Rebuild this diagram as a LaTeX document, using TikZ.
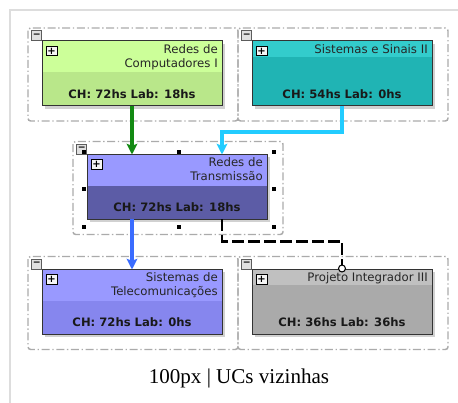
\documentclass[tikz,border=0pt]{standalone}
\usepackage{fontspec}
\newfontfamily\ucfont{DejaVu Sans}
\newfontfamily\capfont{Liberation Serif}
\usepackage{xcolor}
\definecolor{rcHead}{HTML}{CCFF99}
\definecolor{rcBody}{HTML}{B9E78A}
\definecolor{ssHead}{HTML}{33CCCC}
\definecolor{ssBody}{HTML}{20B4B4}
\definecolor{rtHead}{HTML}{9999FF}
\definecolor{rtBody}{HTML}{5C5CA6}
\definecolor{stHead}{HTML}{9999FF}
\definecolor{stBody}{HTML}{8686EE}
\definecolor{piHead}{HTML}{C0C0C0}
\definecolor{piBody}{HTML}{AAAAAA}
\definecolor{edge}{HTML}{333333}
\definecolor{grpC}{HTML}{ABABAB}
\definecolor{frameC}{HTML}{DDDDDD}
\definecolor{preC}{HTML}{138A13}
\definecolor{coC}{HTML}{22CCFF}
\definecolor{nextC}{HTML}{3A6CFF}
\usepackage{tikz}
\usetikzlibrary{arrows.meta,calc,shadows}
\tikzset{
  >={Stealth[length=8pt,width=8pt,inset=1.5pt]},
  ucbox/.style={draw=edge,line width=0.75pt,outer sep=0pt,inner sep=0pt,minimum width=135pt,minimum height=48.75pt,
    drop shadow={shadow xshift=2pt,shadow yshift=-2pt,fill=black!18,opacity=1}},
  grp/.style={draw=grpC,line width=1.1pt,rounded corners=2pt,dash pattern=on 6pt off 2pt on 1pt off 2pt},
  minbtn/.style={draw=edge!80,fill=black!12,line width=0.5pt,minimum size=7.5pt,inner sep=0pt,font=\ucfont\fontsize{7}{7}\selectfont\bfseries},
  plusbtn/.style={draw=black,fill=black!4,line width=0.5pt,minimum width=8pt,minimum height=7pt,inner sep=0pt,font=\ucfont\fontsize{7.5}{7.5}\selectfont\bfseries},
  uctitle/.style={anchor=north east,align=right,inner sep=0pt,text=black!85,font=\ucfont\fontsize{8.8}{10.5}\selectfont},
  uchours/.style={inner sep=0pt,text=black!90,font=\ucfont\fontsize{8.7}{10}\selectfont\bfseries},
  prearr/.style={->,draw=preC,line width=2.6pt},
  coarr/.style={->,draw=coC,line width=2.6pt},
  nextarr/.style={->,draw=nextC,line width=2.6pt},
  deparr/.style={-{Circle[fill=white,length=6pt,line width=0.8pt]},draw=black,line width=2pt,dash pattern=on 9pt off 3pt},
  frameln/.style={draw=frameC,line width=1.5pt},
  caption/.style={font=\capfont\fontsize{15.8}{18}\selectfont},
}
% one unit box: name, centre, header height, header colour, body colour, title, hours
\newcommand{\ucunit}[7]{%
  \draw[grp] ($(#2)+(-104,-45.5)$) rectangle ($(#2)+(106,47.5)$);
  \node[ucbox,fill=#5] (#1) at (#2) {};
  \fill[#4] (#1.north west) rectangle ($(#1.north east)+(0,#3)$);
  \draw[edge,line width=0.75pt] (#1.north west) rectangle (#1.south east);
  \node[minbtn,anchor=south east] (#1-min) at (#1.north west) {−};
  \node[plusbtn,anchor=north west] (#1-plus) at ($(#1.north west)+(4,5)$) {+};
  \node[uctitle] (#1-name) at ($(#1.north east)+(-4,3)$) {#6};
  \node[uchours] (#1-ch) at ($(#1.south)+(0,-12)$) {#7};
}

\begin{document}
\begin{tikzpicture}[x=0.75pt,y=-0.75pt]
\useasboundingbox (0,0) rectangle (458,403);
\draw[frameln] (10,403) -- (10,10) -- (458,10);

\ucunit{rc}{132,73.5}{31}{rcHead}{rcBody}{Redes de\\Computadores I}{CH: 72hs Lab: 18hs}
\ucunit{ss}{342,73.5}{16}{ssHead}{ssBody}{Sistemas e Sinais II}{CH: 54hs Lab: 0hs}
\ucunit{rt}{177,187}{32}{rtHead}{rtBody}{Redes de\\Transmissão}{CH: 72hs Lab: 18hs}
\ucunit{st}{132,302}{32}{stHead}{stBody}{Sistemas de\\Telecomunicações}{CH: 72hs Lab: 0hs}
\ucunit{pi}{342,302}{16}{piHead}{piBody}{Projeto Integrador III}{CH: 36hs Lab: 36hs}

% selection handles
\foreach \p in {(84,152),(179,152),(274,152),(84,189.5),(274,189.5),(84,227),(179,227),(274,227)}
  \fill[black] \p +(-2,-2) rectangle +(2,2);

\draw[prearr] (rc.south) -- (rc.south |- rt.north);
\draw[coarr] (ss.south) -- ++(0,26) -| ($(rt.north east)+(-45,0)$);
\draw[nextarr] (st.north |- rt.south) -- (st.north);
\draw[deparr] ($(rt.south east)+(-45,0)$) |- ($(pi.north)+(0,-28)$) -- ($(pi.north)+(0,3)$);

\node[caption] (cap) at (239,378) {100px | UCs vizinhas};
\end{tikzpicture}
\end{document}
